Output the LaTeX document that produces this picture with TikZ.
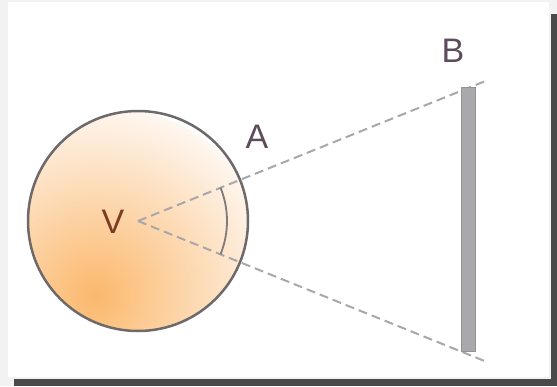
\documentclass[tikz,border=0pt]{standalone}
\usepackage{fontspec}
\usetikzlibrary{calc}
\setmainfont{Liberation Sans}
\definecolor{framegray}{HTML}{F2F2F2}
\definecolor{shadowgray}{HTML}{4A4A4A}
\definecolor{ringgray}{HTML}{6E6A6A}
\definecolor{dashgray}{HTML}{A8A8A8}
\definecolor{arcgray}{HTML}{807A7A}
\definecolor{barfill}{HTML}{A9A9AD}
\definecolor{baredge}{HTML}{939396}
\definecolor{labelcol}{HTML}{5E4C5C}
\definecolor{vcol}{HTML}{7A3C22}
\definecolor{orangedeep}{HTML}{FBB86C}
\definecolor{orangepale}{HTML}{FEF7F1}
\tikzset{
  sightline/.style={draw=dashgray, line width=2pt, dash pattern=on 9pt off 5pt},
  lbl/.style={font=\fontsize{34}{34}\selectfont, text=labelcol, inner sep=0pt},
}
\begin{document}
\begin{tikzpicture}[x=1pt,y=-1pt]
\useasboundingbox (0,0) rectangle (557,386);
% frame and shadow
\fill[framegray] (0,0) rectangle (557,386);
\fill[shadowgray] (551,14) rectangle (557,386);
\fill[shadowgray] (14,379) rectangle (557,386);
\fill[white] (8,2) rectangle (549,377);
% eye ball
\coordinate (V0) at (138,221);
\begin{scope}
  \clip (V0) circle (110);
  \shade[inner color=orangedeep, outer color=orangepale] (95,295) circle (190);
\end{scope}
\draw[ringgray, line width=2.5pt] (V0) circle (110);
% sight lines
\coordinate (Bend) at (488,80);
\coordinate (Cend) at (487,362);
\draw[sightline] (V0) -- (Bend);
\draw[sightline] (V0) -- (Cend);
% angle arc
\draw[arcgray, line width=1.8pt] ($(V0)+(-22:89)$) arc[start angle=-22, end angle=22, radius=89];
% screen bar
\node[draw=baredge, fill=barfill, line width=1pt, minimum width=14pt, minimum height=264pt, inner sep=0pt] (bar) at (468,219) {};
% labels
\node[lbl] (labA) at (257,137) {A};
\node[lbl] (labB) at (453,51) {B};
\node[lbl, text=vcol] (labV) at (113,222) {V};
\end{tikzpicture}
\end{document}
